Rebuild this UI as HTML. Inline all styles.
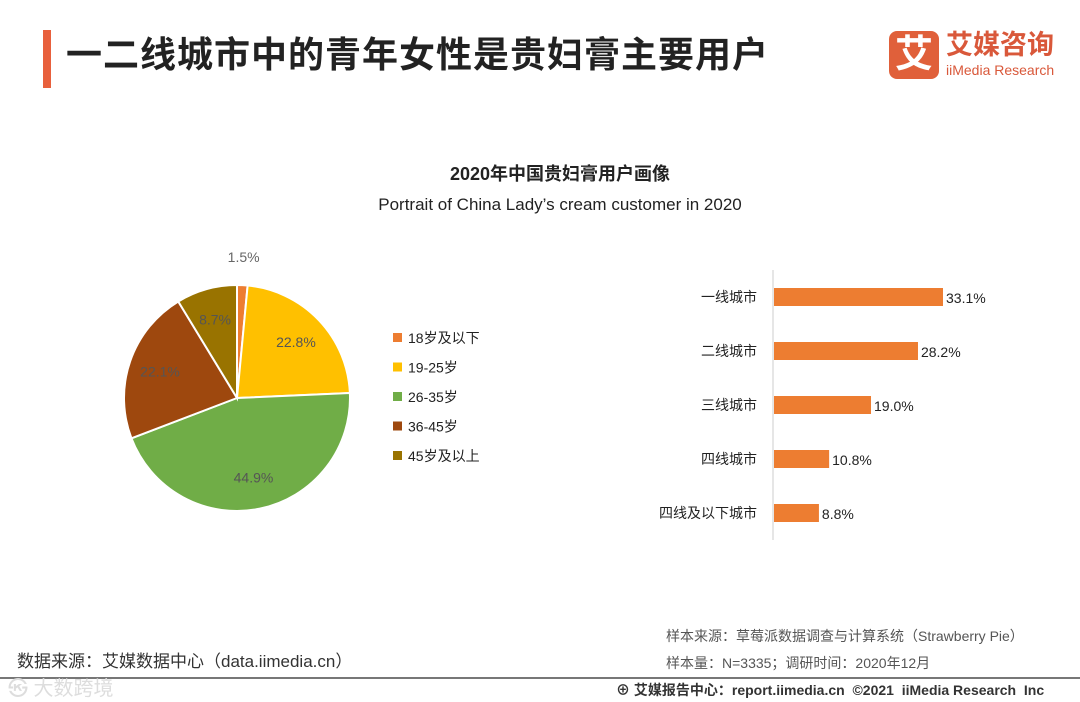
<!DOCTYPE html>
<html><head><meta charset="utf-8">
<style>
body{margin:0;width:1080px;height:702px;background:#fff;position:relative;overflow:hidden;font-family:"Liberation Sans","Noto Sans CJK SC",sans-serif;}
.abs{position:absolute;}
</style></head>
<body>
<div class="abs" style="left:43px;top:30px;width:8px;height:58px;background:#E8603C"></div>
<div class="abs" style="left:66px;top:30px;font-size:36px;letter-spacing:1px;font-weight:bold;color:#222;line-height:50px">一二线城市中的青年女性是贵妇膏主要用户</div>
<div class="abs" style="left:889px;top:31px;width:50px;height:48px;background:#E0603A;border-radius:8px;color:#fff;font-size:38px;font-weight:bold;text-align:center;line-height:48px">艾</div>
<div class="abs" style="left:946px;top:28px;color:#D9583A;font-size:27px;font-weight:bold;line-height:34px">艾媒咨询</div>
<div class="abs" style="left:946px;top:62px;color:#D9583A;font-size:14px;line-height:16px">iiMedia Research</div>

<div class="abs" style="left:0;width:1120px;text-align:center;top:160px;font-size:18px;font-weight:bold;color:#222">2020年中国贵妇膏用户画像</div>
<div class="abs" style="left:0;width:1120px;text-align:center;top:195px;font-size:17px;color:#222">Portrait of China Lady’s cream customer in 2020</div>

<svg class="abs" style="left:0;top:0" width="1080" height="702" id="svg"></svg>

<div class="abs" style="left:17px;top:647px;font-size:17px;color:#333">数据来源：艾媒数据中心（data.iimedia.cn）</div>
<div class="abs" style="left:666px;top:626px;font-size:14px;color:#555">样本来源：草莓派数据调查与计算系统（Strawberry Pie）</div>
<div class="abs" style="left:666px;top:653px;font-size:14px;color:#555">样本量：N=3335；调研时间：2020年12月</div>
<div class="abs" style="left:0;top:677px;width:1080px;height:2px;background:#777"></div>
<div class="abs" style="left:616px;top:680px;font-size:14px;color:#333;font-weight:bold">⊕ 艾媒报告中心：report.iimedia.cn &nbsp;©2021 &nbsp;iiMedia Research &nbsp;Inc</div>
<div class="abs" style="left:8px;top:672px;font-size:20px;color:#ddd">㉿ 大数跨境</div>

<script>
const pieLabels=["18岁及以下","19-25岁","26-35岁","36-45岁","45岁及以上"];
const pieValues=[1.5,22.8,44.9,22.1,8.7];
const pieColors=["#ED7D31","#FFC000","#70AD47","#9E480E","#997300"];
const barCats=["一线城市","二线城市","三线城市","四线城市","四线及以下城市"];
const barValues=[33.1,28.2,19.0,10.8,8.8];
const svg=document.getElementById('svg');
const NS="http://www.w3.org/2000/svg";
function mk(t,a){const e=document.createElementNS(NS,t);for(const k in a)e.setAttribute(k,a[k]);svg.appendChild(e);return e;}
const cx=237,cy=398,r=113;
const total=pieValues.reduce((a,b)=>a+b,0);
let ang=0;
pieValues.forEach((v,i)=>{
  const a0=ang,a1=ang+v/total*2*Math.PI;ang=a1;
  const p=a=>[cx+r*Math.sin(a),cy-r*Math.cos(a)];
  const [x0,y0]=p(a0),[x1,y1]=p(a1);
  const s=mk('path',{d:`M${cx},${cy}L${x0},${y0}A${r},${r} 0 ${a1-a0>Math.PI?1:0} 1 ${x1},${y1}Z`,fill:pieColors[i],stroke:'#fff','stroke-width':2});
  
  
  const m=(a0+a1)/2, lr=v<3?r+28:r*0.72;
  const t=mk('text',{x:cx+lr*Math.sin(m),y:cy-lr*Math.cos(m)+5,'text-anchor':'middle','font-size':14,fill:v<3?'#666':'#555'});
  t.textContent=v.toFixed(1)+'%';
  
  
  const ly=338+i*29.5;
  const lr2=mk('rect',{x:393,y:ly-5,width:9,height:9,fill:pieColors[i]});
  
  
  const lt=mk('text',{x:408,y:ly+5,'font-size':14,fill:'#222'});
  lt.textContent=pieLabels[i];
  
  
});
const x0=773,sc=169/33.1;
const ax=mk('line',{x1:x0,y1:270,x2:x0,y2:540,stroke:'#ccc'});


barValues.forEach((v,i)=>{
  const yc=297+i*54;
  const b=mk('rect',{x:x0+1,y:yc-9,width:v*sc,height:18,fill:'#ED7D31'});
  
  
  const vt=mk('text',{x:x0+v*sc+4,y:yc+6,'font-size':14,fill:'#222'});
  vt.textContent=v.toFixed(1)+'%';
  
  
  const ct=mk('text',{x:x0-16,y:yc+5,'font-size':14,fill:'#222','text-anchor':'end'});
  ct.textContent=barCats[i];
  
  
});
</script>
</body></html>
